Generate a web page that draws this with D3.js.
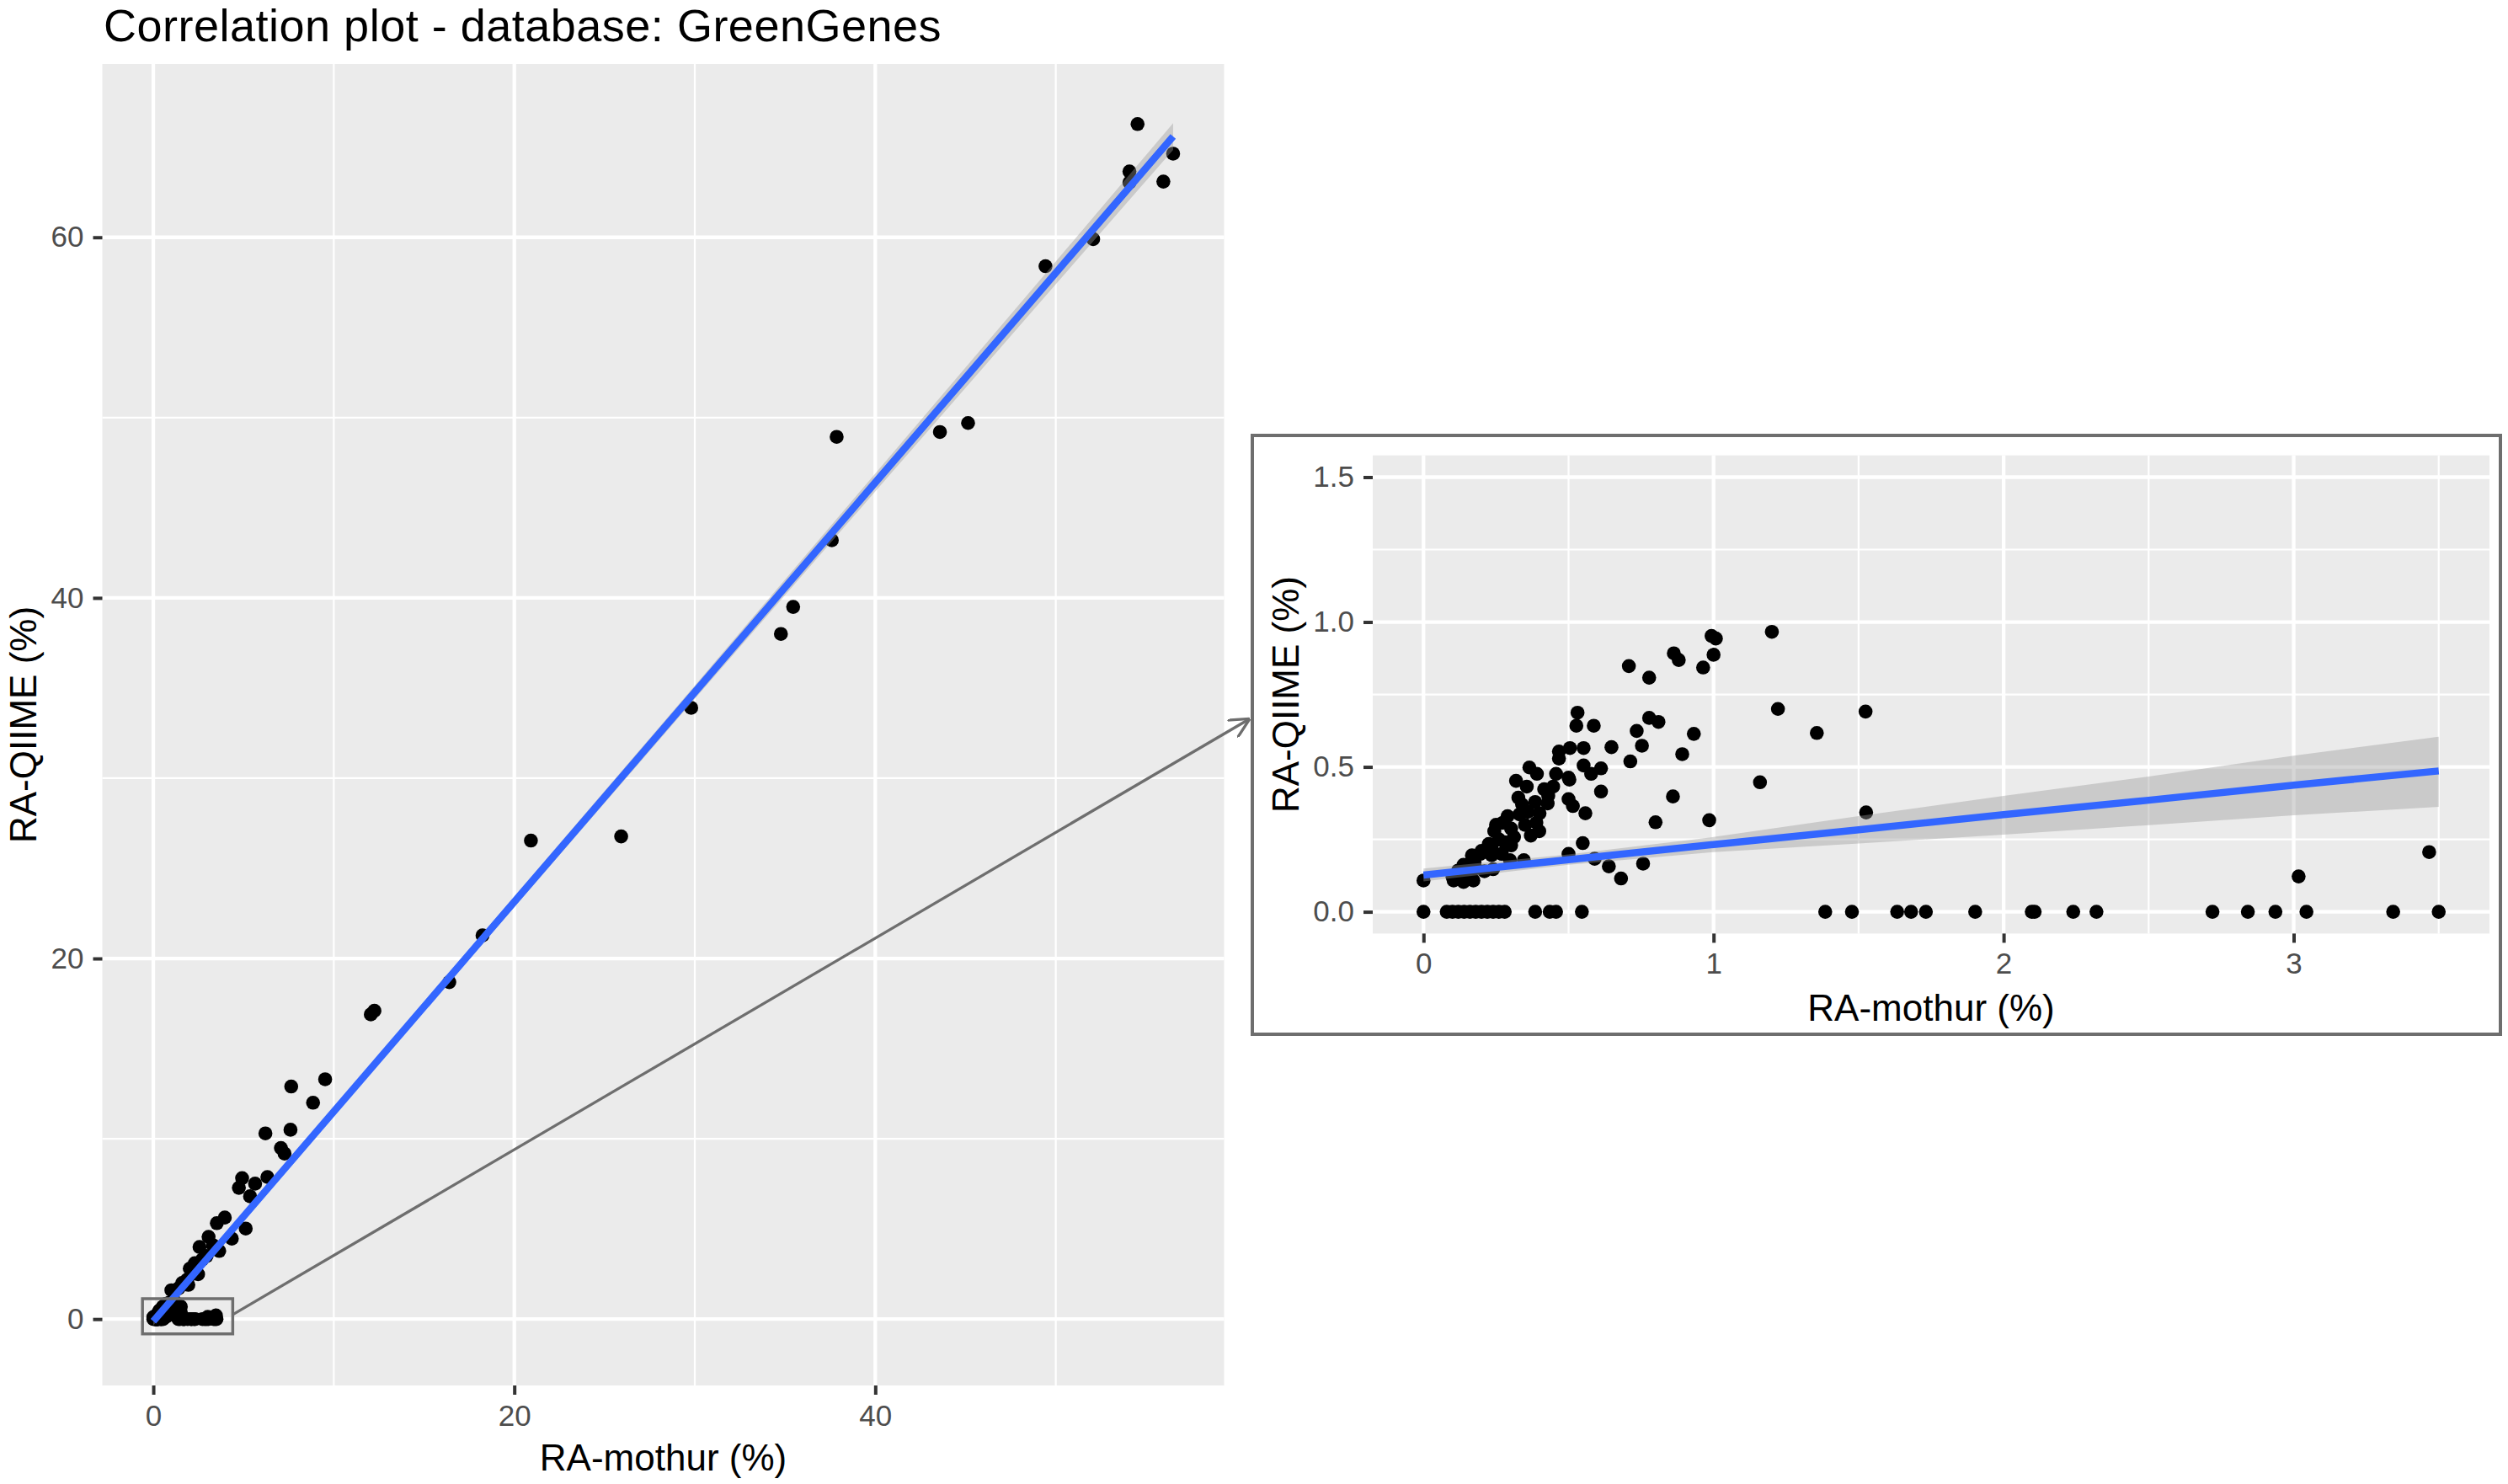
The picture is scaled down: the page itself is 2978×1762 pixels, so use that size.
<!DOCTYPE html>
<html>
<head>
<meta charset="utf-8">
<script src="https://cdn.jsdelivr.net/npm/d3@7"></script>
<style>
  body { margin: 0; background: #fff; }
  svg { display: block; }
</style>
</head>
<body>
<svg id="chart" width="2978" height="1762"></svg>
<script>
const lowMothur = [
  0, 0.08, 0.10, 0.12, 0.14, 0.16, 0.18, 0.20, 0.22, 0.24, 0.26, 0.28, 0.385, 0.435, 0.457, 0.546,
  1.385, 1.477, 1.633, 1.681, 1.732, 1.902, 2.097, 2.107, 2.24, 2.32, 2.72, 2.842, 2.937, 3.044, 3.343, 3.5,
  0, 0.104, 0.138, 0.172, 0.12, 0.15, 0.119, 0.138, 0.176, 0.167, 0.196, 0.235, 0.24, 0.21, 0.298, 0.346,
  0.225, 0.235, 0.244, 0.273, 0.302, 0.26, 0.312, 0.302, 0.28, 0.389, 0.399, 0.37, 0.331, 0.36, 0.327, 0.385,
  0.428, 0.5, 0.515, 0.558, 0.319, 0.356, 0.416, 0.447, 0.365, 0.391, 0.457, 0.503, 0.5, 0.467, 0.505, 0.467,
  0.552, 0.552, 0.578, 0.612, 0.612, 0.531, 0.527, 0.587, 0.648, 0.713, 0.735, 0.753, 0.778, 0.81, 0.708, 0.778,
  0.863, 0.88, 0.964, 0.993, 1.008, 1.0, 1.201, 0.932, 0.892, 0.86, 0.8, 0.985, 1.16, 1.222, 1.356, 1.524,
  1.526, 0.549, 0.5, 0.59, 0.639, 0.757, 0.681, 3.017, 3.467,
  0.2, 0.25, 0.29, 0.34, 0.4, 0.43, 0.35, 0.27, 0.18, 0.1
];
const lowQiime = [
  0, 0, 0, 0, 0, 0, 0, 0, 0, 0, 0, 0, 0, 0, 0, 0,
  0, 0, 0, 0, 0, 0, 0, 0, 0, 0, 0, 0, 0, 0, 0, 0,
  0.108, 0.108, 0.103, 0.108, 0.12, 0.13, 0.142, 0.162, 0.171, 0.195, 0.2, 0.195, 0.147, 0.14, 0.178, 0.178,
  0.234, 0.22, 0.278, 0.307, 0.287, 0.25, 0.258, 0.229, 0.24, 0.307, 0.278, 0.263, 0.336, 0.345, 0.394, 0.379,
  0.374, 0.389, 0.365, 0.34, 0.452, 0.432, 0.423, 0.432, 0.498, 0.476, 0.476, 0.456, 0.463, 0.553, 0.565, 0.529,
  0.565, 0.505, 0.476, 0.495, 0.415, 0.687, 0.642, 0.642, 0.568, 0.519, 0.624, 0.573, 0.669, 0.655, 0.848, 0.808,
  0.892, 0.869, 0.843, 0.952, 0.943, 0.887, 0.966, 0.614, 0.544, 0.398, 0.309, 0.316, 0.447, 0.7, 0.617, 0.691,
  0.343, 0.237, 0.2, 0.183, 0.157, 0.166, 0.115, 0.122, 0.206,
  0.21, 0.3, 0.33, 0.37, 0.34, 0.4, 0.3, 0.2, 0.15, 0.12
];

// Points plus élevés, visibles seulement dans le graphique principal
const highMothur = [
  54.53, 54.08, 54.08, 55.96, 56.5, 49.43, 52.07, 45.14, 43.58, 37.86, 37.59, 35.45, 34.77, 29.8, 25.92, 20.92,
  18.24, 16.4, 12.25, 12.05, 9.52, 7.64, 8.85, 6.21, 7.6, 7.07, 7.27, 4.92, 6.32, 4.74, 5.64, 5.36,
  3.96, 3.52, 5.12, 4.35, 3.06, 2.56, 3.65, 2.95, 2.02, 2.48, 1.86, 1.4, 1.94, 1.0, 2.3, 2.7,
  2.15, 1.6, 3.3
];
const highQiime = [
  66.28, 63.65, 63.04, 63.09, 64.64, 58.4, 59.9, 49.7, 49.2, 48.93, 43.2, 39.5, 38.0, 33.9, 26.77, 26.54,
  21.28, 18.69, 17.1, 16.9, 13.3, 12.9, 12.0, 10.3, 10.5, 9.49, 9.18, 7.82, 7.88, 7.28, 7.51, 6.81,
  5.63, 5.32, 5.02, 4.46, 4.56, 4.0, 3.78, 3.5, 2.8, 2.49, 2.18, 1.71, 1.9, 1.6, 3.1, 3.3,
  2.5, 2.0, 4.1
];

// Droite de régression (geom_smooth) et intervalle, graphique principal
const mainFitX = [0, 10, 20, 30, 40, 50, 56.5];
const mainFitY = [-0.12, 11.51, 23.14, 34.77, 46.4, 58.03, 65.59];
const mainFitLo = [-0.35, 11.3, 22.85, 34.4, 45.9, 57.4, 64.85];
const mainFitHi = [0.11, 11.72, 23.43, 35.14, 46.9, 58.66, 66.33];

// Droite de régression et intervalle, encart
const zoomFitX = [0, 0.5, 1, 1.5, 2, 2.5, 3, 3.5];
const zoomFitY = [0.127, 0.18, 0.232, 0.283, 0.335, 0.385, 0.437, 0.486];
const zoomFitLo = [0.105, 0.162, 0.206, 0.236, 0.266, 0.299, 0.333, 0.362];
const zoomFitHi = [0.149, 0.198, 0.258, 0.33, 0.4, 0.467, 0.539, 0.604];

// Graduations
const mainXTicks = [0, 20, 40];
const mainXMinor = [10, 30, 50];
const mainYTicks = [0, 20, 40, 60];
const mainYMinor = [10, 30, 50];
const zoomXTicks = [0, 1, 2, 3];
const zoomXMinor = [0.5, 1.5, 2.5, 3.5];
const zoomYTicks = [0, 0.5, 1, 1.5];
const zoomYMinor = [0.25, 0.75, 1.25];

// Textes
const title = "Correlation plot - database: GreenGenes";
const xTitle = "RA-mothur (%)";
const yTitle = "RA-QIIME (%)";

// Zone agrandie dans l'encart (en unités de données)
const zoomBoxX = [-0.6, 4.4];
const zoomBoxY = [-0.82, 1.13];
const zoomLimX = [0, 3.5];
const zoomLimY = [0, 1.5];

const svg = d3.select("#chart");
const FONT = "'Liberation Sans', Arial, sans-serif";
const defs = svg.append("defs");

// Emplacement des panneaux
const mainP = { left: 121.5, right: 1453.5, top: 76, bottom: 1645 };
const zoomP = { left: 1630, right: 2956, top: 540.7, bottom: 1108.4 };
const insetBox = { x: 1487, y: 517, w: 1482, h: 711 };

// Expansion de 5 % comme ggplot
const expand = ([a, b]) => [a - (b - a) * 0.05, b + (b - a) * 0.05];

const zip = (xs, ys) => xs.map((v, i) => [v, ys[i]]);
const fitRows = (xs, ys, lo, hi) => xs.map((v, i) => ({ x: v, y: ys[i], lo: lo[i], hi: hi[i] }));

const allPoints = zip(lowMothur, lowQiime).concat(zip(highMothur, highQiime));
const zoomPoints = zip(lowMothur, lowQiime)
  .filter(d => d[0] >= zoomLimX[0] && d[0] <= zoomLimX[1] && d[1] >= zoomLimY[0] && d[1] <= zoomLimY[1]);

// Échelles du graphique principal
const xMain = d3.scaleLinear()
  .domain(expand([0, d3.max(allPoints, d => d[0])]))
  .range([mainP.left, mainP.right]);
const yMain = d3.scaleLinear()
  .domain(expand([d3.min(mainFitLo.concat([0])), d3.max(allPoints, d => d[1])]))
  .range([mainP.bottom, mainP.top]);

// Échelles de l'encart
const xZoom = d3.scaleLinear().domain(expand(zoomLimX)).range([zoomP.left, zoomP.right]);
const yZoom = d3.scaleLinear().domain(expand(zoomLimY)).range([zoomP.bottom, zoomP.top]);

function styleAxis(ax) {
  ax.select(".domain").remove();
  ax.selectAll(".tick line").attr("stroke", "#333333").attr("stroke-width", 4);
  ax.selectAll(".tick text")
    .attr("fill", "#4D4D4D")
    .attr("font-family", FONT)
    .attr("font-size", 35);
}

// Dessine un panneau ggplot complet
function drawPanel(id, p, x, y, cfg) {
  const g = svg.append("g");

  // Fond gris
  g.append("rect")
    .attr("x", p.left).attr("y", p.top)
    .attr("width", p.right - p.left).attr("height", p.bottom - p.top)
    .attr("fill", "#EBEBEB");

  // Grille mineure puis majeure
  const grid = (vals, vertical, w) => {
    g.append("g").selectAll("line").data(vals).join("line")
      .attr("x1", d => vertical ? x(d) : p.left)
      .attr("x2", d => vertical ? x(d) : p.right)
      .attr("y1", d => vertical ? p.top : y(d))
      .attr("y2", d => vertical ? p.bottom : y(d))
      .attr("stroke", "#FFFFFF")
      .attr("stroke-width", w);
  };
  grid(cfg.xMinor, true, 2.2);
  grid(cfg.yMinor, false, 2.2);
  grid(cfg.xTicks, true, 4.3);
  grid(cfg.yTicks, false, 4.3);

  // Axes
  const ax = g.append("g")
    .attr("transform", `translate(0,${p.bottom})`)
    .call(d3.axisBottom(x).tickValues(cfg.xTicks).tickFormat(cfg.xFmt).tickSize(11).tickPadding(12));
  styleAxis(ax);

  const ay = g.append("g")
    .attr("transform", `translate(${p.left},0)`)
    .call(d3.axisLeft(y).tickValues(cfg.yTicks).tickFormat(cfg.yFmt).tickSize(11).tickPadding(11));
  styleAxis(ay);

  // Zone de tracé limitée au panneau
  defs.append("clipPath").attr("id", id)
    .append("rect")
    .attr("x", p.left).attr("y", p.top)
    .attr("width", p.right - p.left).attr("height", p.bottom - p.top);
  const body = g.append("g").attr("clip-path", `url(#${id})`);

  // Points
  body.append("g").selectAll("circle").data(cfg.points).join("circle")
    .attr("cx", d => x(d[0]))
    .attr("cy", d => y(d[1]))
    .attr("r", 8.3)
    .attr("fill", "#000");

  // Intervalle de confiance
  body.append("path")
    .datum(cfg.fit)
    .attr("fill", "#999999")
    .attr("fill-opacity", 0.4)
    .attr("d", d3.area().x(d => x(d.x)).y0(d => y(d.lo)).y1(d => y(d.hi)));

  // Droite de régression
  body.append("path")
    .datum(cfg.fit)
    .attr("fill", "none")
    .attr("stroke", "#3366FF")
    .attr("stroke-width", 8.5)
    .attr("d", d3.line().x(d => x(d.x)).y(d => y(d.y)));

  // Titres des axes
  g.append("text")
    .attr("x", (p.left + p.right) / 2)
    .attr("y", cfg.xTitleY)
    .attr("text-anchor", "middle")
    .attr("font-family", FONT).attr("font-size", 44)
    .text(xTitle);

  g.append("text")
    .attr("transform", `translate(${cfg.yTitleX},${(p.top + p.bottom) / 2}) rotate(-90)`)
    .attr("text-anchor", "middle")
    .attr("font-family", FONT).attr("font-size", 44)
    .text(yTitle);

  return g;
}

// Titre du graphique
svg.append("text")
  .attr("x", 123).attr("y", 49)
  .attr("font-family", FONT).attr("font-size", 54)
  .attr("letter-spacing", 0.5)
  .text(title);

// Graphique principal
drawPanel("clip-main", mainP, xMain, yMain, {
  xTicks: mainXTicks, xMinor: mainXMinor, yTicks: mainYTicks, yMinor: mainYMinor,
  xFmt: d3.format("d"), yFmt: d3.format("d"),
  points: allPoints,
  fit: fitRows(mainFitX, mainFitY, mainFitLo, mainFitHi),
  xTitleY: 1746, yTitleX: 43
});

// Rectangle de la zone agrandie
svg.append("rect")
  .attr("x", xMain(zoomBoxX[0]))
  .attr("y", yMain(zoomBoxY[1]))
  .attr("width", xMain(zoomBoxX[1]) - xMain(zoomBoxX[0]))
  .attr("height", yMain(zoomBoxY[0]) - yMain(zoomBoxY[1]))
  .attr("fill", "none")
  .attr("stroke", "#6E6E6E")
  .attr("stroke-width", 3.5);

// Cadre de l'encart
svg.append("rect")
  .attr("x", insetBox.x).attr("y", insetBox.y)
  .attr("width", insetBox.w).attr("height", insetBox.h)
  .attr("fill", "#fff")
  .attr("stroke", "#6E6E6E")
  .attr("stroke-width", 4);

// Encart
drawPanel("clip-zoom", zoomP, xZoom, yZoom, {
  xTicks: zoomXTicks, xMinor: zoomXMinor, yTicks: zoomYTicks, yMinor: zoomYMinor,
  xFmt: d3.format("d"), yFmt: d3.format(".1f"),
  points: zoomPoints,
  fit: fitRows(zoomFitX, zoomFitY, zoomFitLo, zoomFitHi),
  xTitleY: 1212, yTitleX: 1542
});

// Flèche entre la zone agrandie et l'encart
defs.append("marker")
  .attr("id", "arrow")
  .attr("viewBox", "0 0 10 10")
  .attr("refX", 9.5).attr("refY", 5)
  .attr("markerWidth", 24).attr("markerHeight", 24)
  .attr("markerUnits", "userSpaceOnUse")
  .attr("orient", "auto")
  .append("path")
  .attr("d", "M0,0 L10,5 L0,10")
  .attr("fill", "none")
  .attr("stroke", "#6E6E6E")
  .attr("stroke-width", 1.4);

svg.append("line")
  .attr("x1", xMain(zoomBoxX[1]))
  .attr("y1", yMain(0.25))
  .attr("x2", insetBox.x - 4)
  .attr("y2", 854)
  .attr("stroke", "#6E6E6E")
  .attr("stroke-width", 3.3)
  .attr("marker-end", "url(#arrow)");
</script>
</body>
</html>
